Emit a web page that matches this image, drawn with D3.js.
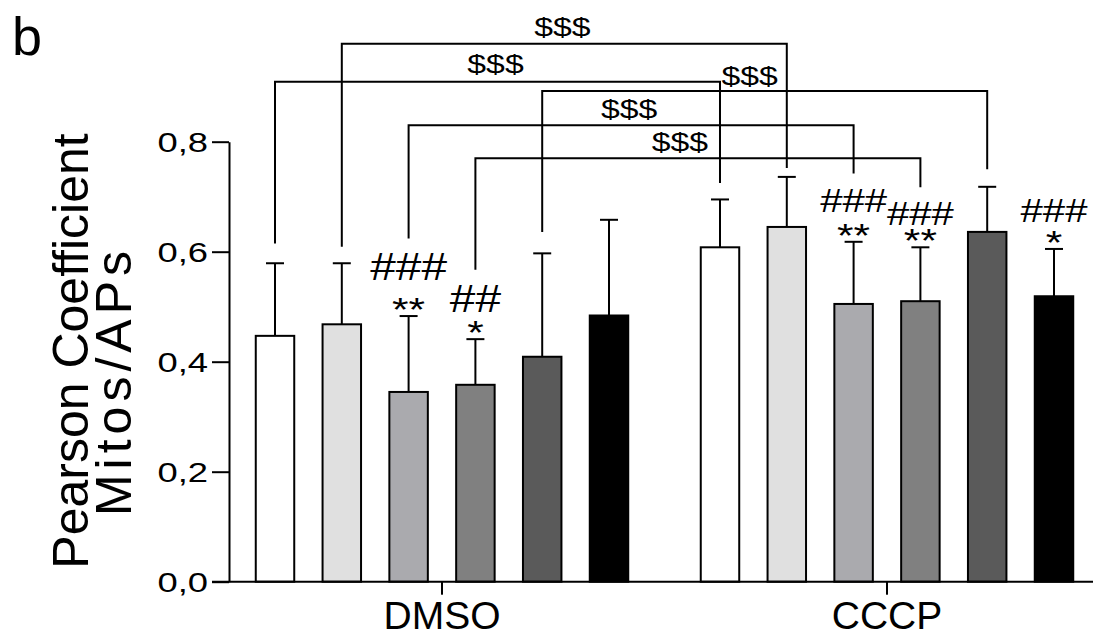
<!DOCTYPE html>
<html><head><meta charset="utf-8">
<script src="https://cdn.jsdelivr.net/npm/d3@7"></script>
<style>
body{margin:0;background:#fff}
text{font-family:"Liberation Sans",Arial,Helvetica,sans-serif;fill:#000}
</style>
</head><body><svg id="c" width="1097" height="631"></svg>
<script>
// ---------- data ----------
const groups = ["DMSO", "CCCP"];
const conditions = ["C1", "C2", "C3", "C4", "C5", "C6"];
const dmsoMean = [0.447, 0.468, 0.345, 0.358, 0.409, 0.484];
const dmsoSD   = [0.132, 0.111, 0.138, 0.083, 0.188, 0.174];
const cccpMean = [0.608, 0.645, 0.505, 0.510, 0.636, 0.519];
const cccpSD   = [0.087, 0.091, 0.113, 0.098, 0.082, 0.086];
const dmsoStars = ["", "", "**", "*", "", ""];
const cccpStars = ["", "", "**", "**", "", "*"];
const dmsoHash  = ["", "", "###", "##", "", ""];
const cccpHash  = ["", "", "###", "###", "", "###"];
const yTicks = [0, 0.2, 0.4, 0.6, 0.8];
const yTickLabels = ["0,0", "0,2", "0,4", "0,6", "0,8"];
const barColors = ["#ffffff", "#e0e0e0", "#aaaaae", "#808080", "#5a5a5a", "#000000"];
// comparison brackets: same condition, DMSO vs CCCP
const bracketCond     = [1, 0, 4, 2, 3];
const bracketLevel    = [0.978, 0.909, 0.892, 0.830, 0.770];
const bracketLeftEnd  = [0.609, 0.615, 0.636, 0.624, 0.567];
const bracketRightEnd = [0.752, 0.725, 0.750, 0.742, 0.717];
const bracketLabel    = ["$$$", "$$$", "$$$", "$$$", "$$$"];

// ---------- layout ----------
const labelDx = [-2, -2, -15, -2, -18];
const labelDy = [-8, -9, -6, -7, -7];
const hashGapDMSO = [28, 28, 36, 27, 28, 28];
const hashGapCCCP = [28, 28, 30, 22, 28, 27];
const hashSize = {DMSO: 39, CCCP: 34};
const FONT = '"Liberation Sans",Arial,Helvetica,sans-serif';

const svg = d3.select("#c");
const y = d3.scaleLinear().domain([0, 0.8]).range([581.7, 141.7]);
const x0 = d3.scaleBand().domain(groups).range([241.6, 1087.4]).paddingInner(0.0993).paddingOuter(0);
const x1 = d3.scaleBand().domain(conditions).range([0, x0.bandwidth()]).paddingInner(0.424).paddingOuter(0.212);

const rows = [];
groups.forEach((g, gi) => {
  const means = gi === 0 ? dmsoMean : cccpMean;
  const sds = gi === 0 ? dmsoSD : cccpSD;
  const stars = gi === 0 ? dmsoStars : cccpStars;
  const hash = gi === 0 ? dmsoHash : cccpHash;
  const gaps = gi === 0 ? hashGapDMSO : hashGapCCCP;
  conditions.forEach((c, ci) => {
    rows.push({g, c, ci, mean: means[ci], sd: sds[ci], star: stars[ci], hash: hash[ci], gap: gaps[ci],
      cx: x0(g) + x1(c) + x1.bandwidth() / 2});
  });
});
const cxOf = (g, ci) => x0(g) + x1(conditions[ci]) + x1.bandwidth() / 2;

// bars
svg.append("g").selectAll("rect").data(rows).join("rect")
  .attr("x", d => x0(d.g) + x1(d.c))
  .attr("y", d => y(d.mean))
  .attr("width", x1.bandwidth())
  .attr("height", d => y(0) - y(d.mean))
  .attr("fill", d => barColors[d.ci])
  .attr("stroke", "#000").attr("stroke-width", 2);

// error bars
const eb = svg.append("g").attr("stroke", "#000").attr("stroke-width", 2);
eb.selectAll("line.v").data(rows).join("line").attr("class", "v")
  .attr("x1", d => d.cx).attr("x2", d => d.cx)
  .attr("y1", d => y(d.mean)).attr("y2", d => y(d.mean + d.sd));
eb.selectAll("line.h").data(rows).join("line").attr("class", "h")
  .attr("x1", d => d.cx - 9).attr("x2", d => d.cx + 9)
  .attr("y1", d => y(d.mean + d.sd)).attr("y2", d => y(d.mean + d.sd));

// significance marks
const ann = svg.append("g");
ann.selectAll("text.star").data(rows.filter(d => d.star)).join("text").attr("class", "star")
  .attr("transform", d => `translate(${d.cx},${y(d.mean + d.sd) + 5}) scale(1.25,1)`)
  .attr("text-anchor", "middle").attr("font-size", 34).text(d => d.star);
ann.selectAll("text.hash").data(rows.filter(d => d.hash)).join("text").attr("class", "hash")
  .attr("transform", d => `translate(${d.cx},${y(d.mean + d.sd) - d.gap}) scale(1.18,1)`)
  .attr("text-anchor", "middle").attr("font-size", d => hashSize[d.g]).text(d => d.hash);

// y axis
const ya = svg.append("g").attr("transform", "translate(229,0)")
  .call(d3.axisLeft(y).tickValues(yTicks).tickFormat((d, i) => yTickLabels[i]).tickSize(17).tickSizeOuter(0));
ya.selectAll("path,line").attr("stroke", "#000").attr("stroke-width", 2);
ya.selectAll("text").attr("font-size", 28).attr("font-family", FONT).attr("fill", "#000")
  .attr("x", -21 / 1.3).attr("transform", "scale(1.3,1)").attr("dy", "0.36em");

// x axis
svg.append("line").attr("x1", 212).attr("x2", 1093).attr("y1", y(0)).attr("y2", y(0))
  .attr("stroke", "#000").attr("stroke-width", 2);
const xa = svg.append("g").selectAll("g").data(groups).join("g")
  .attr("transform", g => `translate(${x0(g) + x0.bandwidth() / 2},${y(0)})`);
xa.append("line").attr("y1", 0).attr("y2", 13).attr("stroke", "#000").attr("stroke-width", 2);
xa.append("text").attr("y", 47).attr("text-anchor", "middle").attr("font-size", 39).text(g => g);

// brackets
const br = svg.append("g");
bracketCond.forEach((ci, i) => {
  const xl = cxOf("DMSO", ci), xr = cxOf("CCCP", ci);
  br.append("path")
    .attr("d", `M${xl},${y(bracketLeftEnd[i])}V${y(bracketLevel[i])}H${xr}V${y(bracketRightEnd[i])}`)
    .attr("fill", "none").attr("stroke", "#000").attr("stroke-width", 2);
  br.append("text")
    .attr("transform", `translate(${(xl + xr) / 2 + labelDx[i]},${y(bracketLevel[i]) + labelDy[i]}) scale(1.35,1)`)
    .attr("text-anchor", "middle").attr("font-size", 25).text(bracketLabel[i]);
});

// y title
svg.append("text").attr("transform", "translate(88,351) rotate(-90)")
  .attr("text-anchor", "middle").attr("font-size", 50).text("Pearson Coefficient");
svg.append("text").attr("transform", "translate(131,381) rotate(-90)")
  .attr("text-anchor", "middle").attr("font-size", 50).attr("letter-spacing", 5).text("Mitos/APs");

// panel letter
svg.append("text").attr("x", 12).attr("y", 55).attr("font-size", 54).text("b");
</script>
</body></html>
